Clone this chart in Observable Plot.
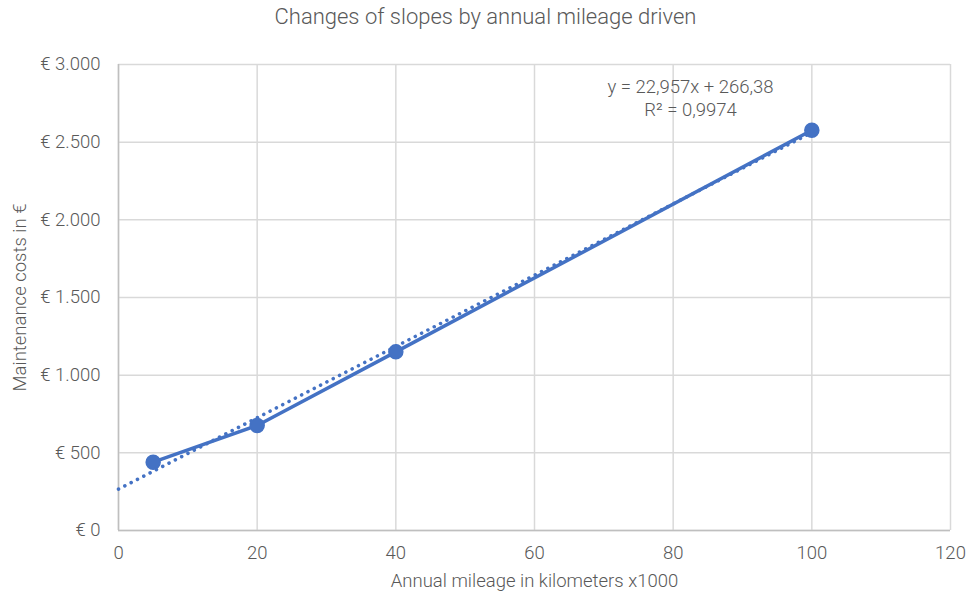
<!DOCTYPE html>
<html>
<head>
<meta charset="utf-8">
<script src="https://cdn.jsdelivr.net/npm/d3@7"></script>
<script src="https://cdn.jsdelivr.net/npm/@observablehq/plot@0.6"></script>
<style>
  html, body { margin: 0; padding: 0; background: #ffffff; }
  #title { width: 971px; height: 36px; line-height: 34px; text-align: center; font-family: Roboto, sans-serif; font-weight: 300; font-size: 22px; color: #595959; }
</style>
</head>
<body>
<div id="title">Changes of slopes by annual mileage driven</div>
<div id="chart"></div>
<script>
// Data
const mileage = [5, 20, 40, 100];
const costs = [440, 676, 1150, 2577];
const trendSlope = 22.957;
const trendIntercept = 266.38;
const trendRange = [0, 100];
const trendLabel = "y = 22,957x + 266,38\nR² = 0,9974";
const xTicks = [0, 20, 40, 60, 80, 100, 120];
const yTicks = [0, 500, 1000, 1500, 2000, 2500, 3000];
const xLabel = "Annual mileage in kilometers x1000";
const yLabel = "Maintenance costs in €";

const points = mileage.map((m, i) => ({x: m, y: costs[i]}));
const trend = trendRange.map(x => ({x, y: trendSlope * x + trendIntercept}));

const locale = d3.formatLocale({decimal: ",", thousands: ".", grouping: [3], currency: ["€ ", ""]});
const euro = locale.format("$,");

const blue = "#4472C4";
const grid = "#d9d9d9";
const textColor = "#595959";
const fs = 18.5;

const chart = Plot.plot({
  width: 971,
  height: 560,
  marginTop: 28,
  marginBottom: 66,
  marginLeft: 118,
  marginRight: 21,
  style: {fontFamily: "Roboto, sans-serif", fontSize: fs + "px", fontWeight: 300, color: textColor, background: "#ffffff"},
  x: {domain: [0, 120]},
  y: {domain: [0, 3000]},
  marks: [
    Plot.gridX(xTicks, {stroke: grid, strokeOpacity: 1, strokeWidth: 1.5}),
    Plot.gridY(yTicks, {stroke: grid, strokeOpacity: 1, strokeWidth: 1.5}),
    Plot.ruleY([0], {stroke: "#bfbfbf", strokeWidth: 1.5}),
    Plot.ruleX([0], {stroke: "#bfbfbf", strokeWidth: 1.5}),
    Plot.axisX(xTicks, {tickSize: 0, tickPadding: 15, label: null, fill: textColor, fontSize: fs}),
    Plot.axisY(yTicks, {tickSize: 0, tickPadding: 18, label: null, tickFormat: euro, fill: textColor, fontSize: fs}),
    Plot.line(trend, {x: "x", y: "y", stroke: blue, strokeWidth: 3.5, strokeDasharray: "0.1 7", strokeLinecap: "round"}),
    Plot.line(points, {x: "x", y: "y", stroke: blue, strokeWidth: 3.5}),
    Plot.dot(points, {x: "x", y: "y", r: 7, fill: blue, stroke: blue}),
    Plot.text([trendLabel], {frameAnchor: "top", dx: 156, dy: 33, lineAnchor: "middle", lineHeight: 1.25, fill: textColor, fontSize: fs}),
    Plot.text([xLabel], {frameAnchor: "bottom", dy: 56, fill: textColor, fontSize: fs}),
    Plot.text([yLabel], {frameAnchor: "left", dx: -98, rotate: -90, textAnchor: "middle", fill: textColor, fontSize: fs})
  ]
});
document.getElementById("chart").appendChild(chart);
</script>
</body>
</html>
